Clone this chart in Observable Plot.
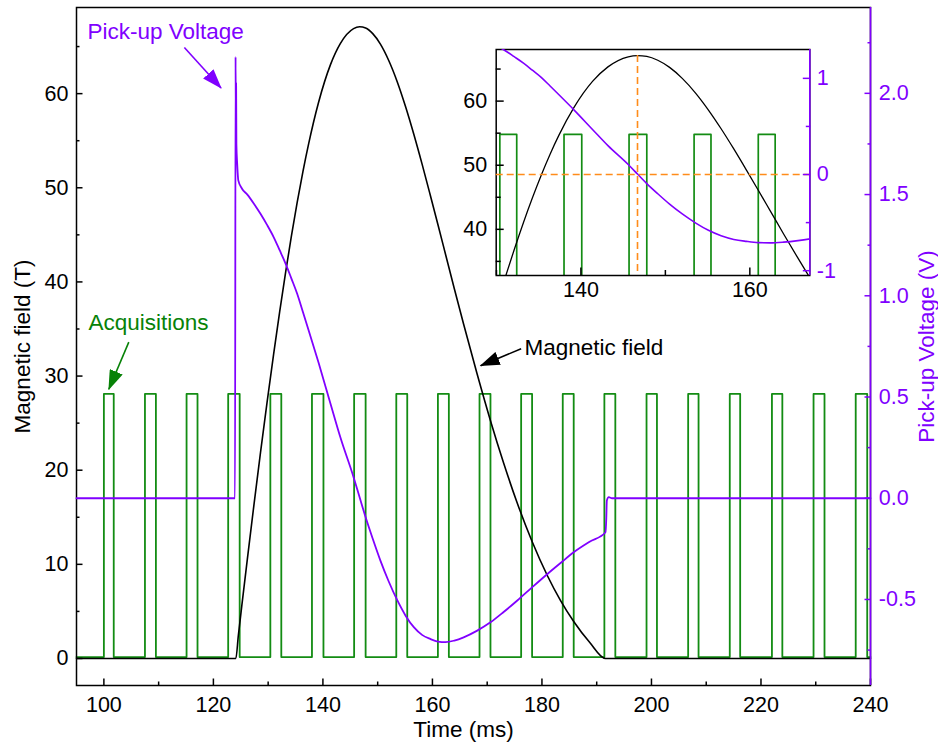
<!DOCTYPE html>
<html><head><meta charset="utf-8">
<script src="https://cdn.jsdelivr.net/npm/d3@7"></script>
<script src="https://cdn.jsdelivr.net/npm/@observablehq/plot@0.6"></script>
<style>
html,body{margin:0;padding:0;background:#fff;}
#chart{position:relative;width:938px;height:743px;}
#chart svg{position:absolute;left:0;top:0;overflow:visible;}
</style></head><body><div id="chart"></div>
<script>
// ---------- data ----------
const fieldTime  = [95, 124.1, 124.55, 125.2, 126.2, 127.4, 128.6, 129.8, 131.0, 132.1, 133.2, 134.25, 135.3, 136.35, 137.4, 139.2, 141.4, 143.2, 145.6, 146.7, 147.8, 149.1, 150.5, 152.0, 153.6, 155.1, 156.6, 158.1, 159.6, 161.0, 162.4, 164.0, 165.7, 168.1, 170.6, 173.0, 175.5, 178.2, 181.0, 183.4, 185.8, 188.7, 191.6, 240];
const fieldValue = [0, 0, 2.4, 5.66, 10.56, 16.3, 21.86, 27.21, 32.34, 36.82, 41.07, 44.88, 48.44, 51.72, 54.69, 59.06, 63.11, 65.34, 66.91, 67.1, 66.97, 66.37, 65.26, 63.55, 61.22, 58.61, 55.69, 52.54, 49.24, 46.1, 42.92, 39.28, 35.5, 30.35, 25.26, 20.76, 16.49, 12.43, 8.79, 6.15, 3.93, 1.72, 0, 0];

const voltTime  = [95, 123.95, 124.05, 124.1, 124.15, 124.2, 124.35, 124.55, 125.2, 126.2, 127.4, 128.6, 129.8, 131.0, 132.1, 133.2, 134.25, 135.3, 136.35, 137.4, 139.2, 141.4, 143.2, 145.6, 146.7, 147.8, 149.1, 150.5, 152.0, 153.6, 155.1, 156.6, 158.1, 159.6, 161.0, 162.4, 164.0, 165.7, 168.1, 170.6, 173.0, 175.5, 178.2, 181.0, 183.4, 185.8, 188.7, 191.6, 191.75, 191.85, 192.2, 192.8, 240];
const voltValue = [0, 0, 2.18, 1.85, 2.05, 1.75, 1.65, 1.57, 1.53, 1.50, 1.455, 1.405, 1.35, 1.29, 1.225, 1.158, 1.085, 1.01, 0.92, 0.829, 0.67, 0.466, 0.30, 0.104, 0.005, -0.094, -0.20, -0.308, -0.41, -0.505, -0.58, -0.637, -0.675, -0.695, -0.708, -0.711, -0.703, -0.687, -0.655, -0.613, -0.562, -0.505, -0.44, -0.374, -0.32, -0.267, -0.215, -0.168, -0.10, -0.011, 0.005, 0, 0];

const acqRise = [100.0, 107.5, 115.1, 122.7, 130.4, 138.0, 145.7, 153.4, 161.0, 168.6, 176.2, 183.8, 191.4, 199.1, 206.7, 214.3, 222.0, 229.6, 237.3];
const acqFall = [101.8, 109.5, 117.1, 124.8, 132.4, 140.1, 147.8, 155.4, 163.0, 170.6, 178.2, 185.8, 193.4, 201.0, 208.6, 216.2, 223.9, 231.6, 239.4];
const acqLevelMain  = [0.15, 28.1];   // low, high (field units, main)
const acqLevelInset = [0, 54.8];      // low, high (field units, inset)

const peakTime = 146.7, peakField = 67.1, refVoltage = 0;

const xDomain = [95, 240], fieldDomain = [-2.87, 69.15], voltDomain = [-0.925, 2.424];
const insetXDomain = [129.97, 167.1], insetFieldDomain = [32.8, 68.05], insetVoltDomain = [-1.05, 1.30];

const xTicks = [100, 120, 140, 160, 180, 200, 220, 240];
const xMinor = [110, 130, 150, 170, 190, 210, 230];
const yTicks = [0, 10, 20, 30, 40, 50, 60];
const yMinor = [5, 15, 25, 35, 45, 55, 65];
const vTicks = [-0.5, 0.0, 0.5, 1.0, 1.5, 2.0];
const vMinor = [-0.75, -0.25, 0.25, 0.75, 1.25, 1.75, 2.25];
const insetXTicks = [140, 160], insetXMinor = [130, 150];
const insetYTicks = [40, 50, 60], insetYMinor = [35, 45, 55, 65];
const insetVTicks = [-1, 0, 1], insetVMinor = [-0.5, 0.5];

const xLabel = "Time (ms)", yLabel = "Magnetic field (T)", vLabel = "Pick-up Voltage (V)";
const annText  = ["Pick-up Voltage", "Acquisitions", "Magnetic field"];
const annTextX = [97.0, 97.2, 176.8];
const annTextY = [66.6, 35.7, 33.0];
const annFromX = [114.7, 104.55, 176.2];
const annFromY = [64.9, 33.6, 32.9];
const annToX   = [121.4, 100.9, 168.8];
const annToY   = [60.6, 28.6, 31.1];

// ---------- styles ----------
const purple = "#8000ff", green = "#138c13", greenText = "#078207", orange = "#ff8c1a";
const annColor = [purple, greenText, "black"];
const W = 938, H = 743, FS = 21.5, FT = 22.5;
const font = "'Liberation Sans', Arial, sans-serif";

const fieldData = fieldTime.map((t, i) => ({t, v: fieldValue[i]}));
const voltData = voltTime.map((t, i) => ({t, v: voltValue[i]}));
function acqSteps([low, high]) {
  const pts = [{t: xDomain[0], v: low}];
  acqRise.forEach((r, i) => {
    pts.push({t: r, v: low}, {t: r, v: high}, {t: acqFall[i], v: high}, {t: acqFall[i], v: low});
  });
  pts.push({t: xDomain[1], v: low});
  return pts;
}

const mainMargins = {marginLeft: 76, marginRight: 68, marginTop: 7, marginBottom: 58};
const insetMargins = {marginLeft: 495.7, marginRight: 128.7, marginTop: 49, marginBottom: 468};
const style = {fontFamily: font, fontSize: FS + "px", background: "transparent", overflow: "visible"};
const noFmt = () => "";

// ---------- main (field scale) ----------
const annMarks = [];
annText.forEach((s, i) => {
  annMarks.push(Plot.link([i], {x1: () => annFromX[i], y1: () => annFromY[i], x2: () => annToX[i], y2: () => annToY[i],
    stroke: annColor[i], strokeWidth: 1.6, className: "annarrow" + i}));
  annMarks.push(Plot.text([i], {x: () => annTextX[i], y: () => annTextY[i], text: () => s, fill: annColor[i],
    textAnchor: "start", lineAnchor: "middle", fontSize: FT}));
});

const mainPlot = Plot.plot({
  width: W, height: H, ...mainMargins, style,
  x: {domain: xDomain}, y: {domain: fieldDomain},
  marks: [
    Plot.line(acqSteps(acqLevelMain), {x: "t", y: "v", stroke: green, strokeWidth: 1.8}),
    Plot.line(fieldData, {x: "t", y: "v", stroke: "black", strokeWidth: 1.6, curve: "monotone-x"}),
    Plot.frame({stroke: "black", strokeWidth: 1.5}),
    Plot.axisX(xTicks, {tickSize: -6.5, tickPadding: 17.5, tickFormat: d => String(d), label: null, strokeWidth: 1.5, fontSize: FS}),
    Plot.axisX(xMinor, {tickSize: -3.5, tickFormat: noFmt, label: null, strokeWidth: 1.5}),
    Plot.axisY(yTicks, {tickSize: -6.5, tickPadding: 14.5, tickFormat: d => String(d), label: null, strokeWidth: 1.5, fontSize: FS}),
    Plot.axisY(yMinor, {tickSize: -3.5, tickFormat: noFmt, label: null, strokeWidth: 1.5}),
    Plot.text([yLabel], {text: d => d, frameAnchor: "left", dx: -54, rotate: -90, textAnchor: "middle", lineAnchor: "middle", fontSize: FT}),
    Plot.text([xLabel], {text: d => d, frameAnchor: "bottom", dx: -10, dy: 44, textAnchor: "middle", lineAnchor: "middle", fontSize: FT}),
    ...annMarks
  ]
});

// ---------- main overlay (voltage scale) ----------
const voltPlot = Plot.plot({
  width: W, height: H, ...mainMargins, style,
  x: {domain: xDomain, axis: null}, y: {domain: voltDomain},
  marks: [
    Plot.line(voltData, {x: "t", y: "v", stroke: purple, strokeWidth: 1.8, curve: "monotone-x"}),
    Plot.ruleX([xDomain[1]], {stroke: purple, strokeWidth: 1.6}),
    Plot.axisY(vTicks, {anchor: "right", tickSize: -6.5, tickPadding: 14.8, tickFormat: d => d.toFixed(1), label: null, color: purple, strokeWidth: 1.5, fontSize: FS}),
    Plot.axisY(vMinor, {anchor: "right", tickSize: -3.5, tickFormat: noFmt, label: null, color: purple, strokeWidth: 1.5}),
    Plot.text([vLabel], {text: d => d, frameAnchor: "right", dx: 56, rotate: -90, textAnchor: "middle", lineAnchor: "middle", fill: purple, fontSize: FT})
  ]
});

// ---------- inset (field scale) ----------
const insetField = Plot.plot({
  width: W, height: H, ...insetMargins, style,
  x: {domain: insetXDomain}, y: {domain: insetFieldDomain},
  marks: [
    Plot.line(acqSteps(acqLevelInset), {x: "t", y: "v", stroke: green, strokeWidth: 1.7, clip: true}),
    Plot.line(fieldData, {x: "t", y: "v", stroke: "black", strokeWidth: 1.3, curve: "monotone-x", clip: true}),
    Plot.ruleX([peakTime], {y1: peakField, y2: insetFieldDomain[0], stroke: orange, strokeWidth: 1.6, strokeDasharray: "7,4"}),
    Plot.frame({stroke: "black", strokeWidth: 1.5}),
    Plot.axisX(insetXTicks, {tickSize: -7.5, tickPadding: 13.5, tickFormat: d => String(d), label: null, strokeWidth: 1.5, fontSize: FS}),
    Plot.axisX(insetXMinor, {tickSize: -5, tickFormat: noFmt, label: null, strokeWidth: 1.5}),
    Plot.axisY(insetYTicks, {tickSize: -8, tickPadding: 17, tickFormat: d => String(d), label: null, strokeWidth: 1.5, fontSize: FS}),
    Plot.axisY(insetYMinor, {tickSize: -5, tickFormat: noFmt, label: null, strokeWidth: 1.5})
  ]
});

// ---------- inset (voltage scale) ----------
const insetVolt = Plot.plot({
  width: W, height: H, ...insetMargins, style,
  x: {domain: insetXDomain, axis: null}, y: {domain: insetVoltDomain},
  marks: [
    Plot.line(voltData, {x: "t", y: "v", stroke: purple, strokeWidth: 1.6, curve: "monotone-x", clip: true}),
    Plot.ruleY([refVoltage], {stroke: orange, strokeWidth: 1.6, strokeDasharray: "7,4"}),
    Plot.ruleX([insetXDomain[1]], {stroke: purple, strokeWidth: 1.6}),
    Plot.axisY(insetVTicks, {anchor: "right", tickSize: -7.5, tickPadding: 14.5, tickFormat: d => String(d), label: null, color: purple, strokeWidth: 1.5, fontSize: FS}),
    Plot.axisY(insetVMinor, {anchor: "right", tickSize: -4.5, tickFormat: noFmt, label: null, color: purple, strokeWidth: 1.5})
  ]
});

const chart = document.getElementById("chart");
[mainPlot, voltPlot, insetField, insetVolt].forEach(p => chart.appendChild(p));

// filled arrowheads on annotation links
const ns = "http://www.w3.org/2000/svg";
const defs = document.createElementNS(ns, "defs");
annColor.forEach((c, i) => {
  const m = document.createElementNS(ns, "marker");
  m.setAttribute("id", "annhead" + i);
  m.setAttribute("viewBox", "0 0 20 14");
  m.setAttribute("refX", "19");
  m.setAttribute("refY", "7");
  m.setAttribute("markerWidth", "20");
  m.setAttribute("markerHeight", "14");
  m.setAttribute("markerUnits", "userSpaceOnUse");
  m.setAttribute("orient", "auto");
  const p = document.createElementNS(ns, "path");
  p.setAttribute("d", "M0,0L20,7L0,14Z");
  p.setAttribute("fill", c);
  m.appendChild(p);
  defs.appendChild(m);
});
mainPlot.insertBefore(defs, mainPlot.firstChild);
annColor.forEach((c, i) => {
  mainPlot.querySelectorAll(".annarrow" + i + " path, path.annarrow" + i).forEach(p => p.setAttribute("marker-end", `url(#annhead${i})`));
});
</script></body></html>
